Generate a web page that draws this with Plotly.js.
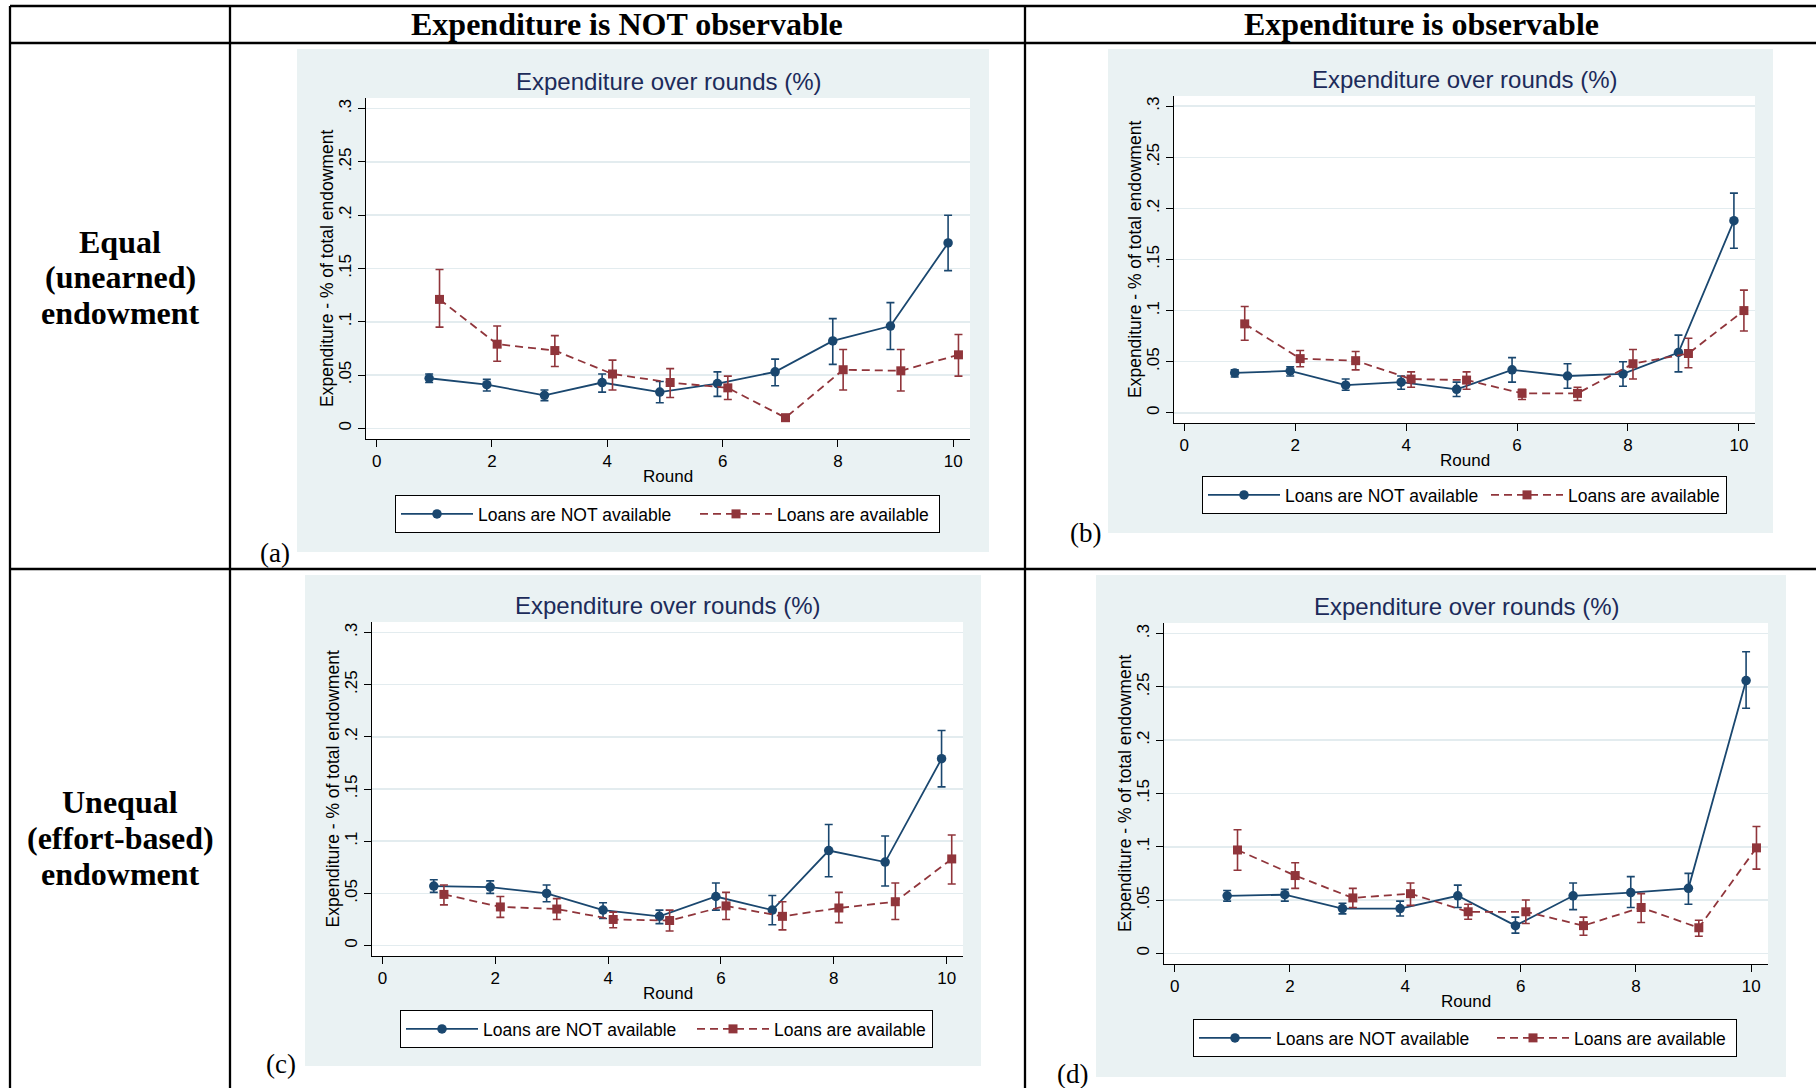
<!DOCTYPE html>
<html>
<head>
<meta charset="utf-8">
<script src="https://cdn.plot.ly/plotly-3.0.1.min.js"></script>
<style>
  html, body { margin: 0; padding: 0; background: #ffffff; }
  #chart { width: 1816px; height: 1088px; }
</style>
</head>
<body>
<div id="chart"></div>
<script>
// ---- Data: mean expenditure share per round with 95% CI bounds ----
const rounds = [1, 2, 3, 4, 5, 6, 7, 8, 9, 10];
const seriesNames = ['Loans are NOT available', 'Loans are available'];
const columnHeaders = ['Expenditure is NOT observable', 'Expenditure is observable'];
const rowHeaders = [['Equal', '(unearned)', 'endowment'], ['Unequal', '(effort-based)', 'endowment']];
const panelLetters = ['(a)', '(b)', '(c)', '(d)'];
const chartTitle = 'Expenditure over rounds (%)';
const yAxisTitle = 'Expenditure - % of total endowment';
const xAxisTitle = 'Round';
const xTickVals = [0, 2, 4, 6, 8, 10];
const yTickVals = [0, 0.05, 0.1, 0.15, 0.2, 0.25, 0.3];
const yTickText = ['0', '.05', '.1', '.15', '.2', '.25', '.3'];

// (a) equal endowment, expenditure not observable
const aNoLoansMean = [0.047, 0.041, 0.031, 0.043, 0.034, 0.042, 0.053, 0.082, 0.096, 0.174];
const aNoLoansHigh = [0.051, 0.046, 0.036, 0.051, 0.044, 0.053, 0.065, 0.103, 0.118, 0.200];
const aNoLoansLow  = [0.043, 0.035, 0.026, 0.034, 0.024, 0.030, 0.040, 0.060, 0.074, 0.148];
const aLoansMean   = [0.121, 0.079, 0.073, 0.051, 0.043, 0.038, 0.010, 0.055, 0.054, 0.069];
const aLoansHigh   = [0.149, 0.096, 0.087, 0.064, 0.056, 0.049, 0.011, 0.074, 0.074, 0.088];
const aLoansLow    = [0.095, 0.063, 0.058, 0.036, 0.029, 0.027, 0.009, 0.036, 0.035, 0.049];

// (b) equal endowment, expenditure observable
const bNoLoansMean = [0.039, 0.041, 0.027, 0.030, 0.023, 0.042, 0.036, 0.038, 0.059, 0.188];
const bNoLoansHigh = [0.042, 0.045, 0.033, 0.036, 0.030, 0.054, 0.048, 0.050, 0.076, 0.215];
const bNoLoansLow  = [0.035, 0.036, 0.022, 0.023, 0.016, 0.030, 0.024, 0.026, 0.040, 0.161];
const bLoansMean   = [0.087, 0.053, 0.051, 0.033, 0.032, 0.019, 0.019, 0.048, 0.058, 0.100];
const bLoansHigh   = [0.104, 0.061, 0.060, 0.040, 0.040, 0.023, 0.025, 0.062, 0.073, 0.120];
const bLoansLow    = [0.071, 0.045, 0.042, 0.025, 0.023, 0.013, 0.012, 0.033, 0.044, 0.080];

// (c) unequal endowment, expenditure not observable
const cNoLoansMean = [0.057, 0.056, 0.050, 0.034, 0.028, 0.047, 0.034, 0.091, 0.080, 0.179];
const cNoLoansHigh = [0.063, 0.062, 0.058, 0.041, 0.034, 0.060, 0.048, 0.116, 0.105, 0.206];
const cNoLoansLow  = [0.051, 0.050, 0.042, 0.026, 0.021, 0.034, 0.020, 0.066, 0.057, 0.152];
const cLoansMean   = [0.049, 0.037, 0.035, 0.025, 0.024, 0.038, 0.028, 0.036, 0.042, 0.083];
const cLoansHigh   = [0.058, 0.047, 0.045, 0.032, 0.034, 0.051, 0.042, 0.051, 0.060, 0.106];
const cLoansLow    = [0.039, 0.027, 0.025, 0.017, 0.014, 0.025, 0.015, 0.022, 0.025, 0.059];

// (d) unequal endowment, expenditure observable
const dNoLoansMean = [0.054, 0.055, 0.042, 0.042, 0.054, 0.026, 0.054, 0.057, 0.061, 0.256];
const dNoLoansHigh = [0.059, 0.060, 0.047, 0.049, 0.064, 0.034, 0.066, 0.072, 0.075, 0.283];
const dNoLoansLow  = [0.049, 0.049, 0.037, 0.035, 0.043, 0.019, 0.041, 0.043, 0.046, 0.230];
const dLoansMean   = [0.097, 0.073, 0.052, 0.056, 0.039, 0.039, 0.026, 0.043, 0.024, 0.099];
const dLoansHigh   = [0.116, 0.085, 0.061, 0.066, 0.046, 0.050, 0.034, 0.056, 0.031, 0.119];
const dLoansLow    = [0.078, 0.061, 0.043, 0.045, 0.032, 0.028, 0.017, 0.029, 0.016, 0.079];

// ---- Page geometry (pixels) ----
const W = 1816, H = 1088;
const X = px => px / W;
const Y = py => 1 - py / H;

const NAVY = '#1A476F';
const MAROON = '#90353B';
const PANEL_BG = '#EAF2F3';
const TITLE_COLOR = '#1C2B5A';
const SANS = 'Liberation Sans, Arial, sans-serif';
const SERIF = 'Liberation Serif, Times New Roman, serif';

// bg / plot boxes: [left, top, right, bottom]; legend: [left, top, first entry width, second entry width]
const panels = [
  { id: '',  bg: [297, 49, 989, 552],   plot: [366, 98, 970, 439],
    legend: [395, 495, 212, 157], letter: [275, 553],
    data: [[aNoLoansMean, aNoLoansLow, aNoLoansHigh], [aLoansMean, aLoansLow, aLoansHigh]] },
  { id: '2', bg: [1108, 49, 1773, 533], plot: [1174, 96, 1755, 423],
    legend: [1202, 476, 196, 153], letter: [1085, 533],
    data: [[bNoLoansMean, bNoLoansLow, bNoLoansHigh], [bLoansMean, bLoansLow, bLoansHigh]] },
  { id: '3', bg: [305, 575, 981, 1066], plot: [372, 622, 963, 956],
    legend: [400, 1010, 204, 153], letter: [281, 1064],
    data: [[cNoLoansMean, cNoLoansLow, cNoLoansHigh], [cLoansMean, cLoansLow, cLoansHigh]] },
  { id: '4', bg: [1096, 575, 1786, 1077], plot: [1164, 623, 1768, 964],
    legend: [1193, 1019, 211, 157], letter: [1072, 1074],
    data: [[dNoLoansMean, dNoLoansLow, dNoLoansHigh], [dLoansMean, dLoansLow, dLoansHigh]] }
];

const seriesStyle = [
  { color: NAVY,   dash: 'solid',   symbol: 'circle', size: 9.5, offset: -0.09 },
  { color: MAROON, dash: '8px,5px', symbol: 'square', size: 9,   offset: 0.09 }
];

const traces = [];
const shapes = [];
const annotations = [];
const layout = {
  width: W, height: H,
  margin: { l: 0, r: 0, t: 0, b: 0 },
  paper_bgcolor: '#ffffff',
  plot_bgcolor: '#ffffff',
  showlegend: true,
  font: { family: SANS, color: '#000000' },
  shapes: shapes,
  annotations: annotations
};

// table rules
const rule = (x0, y0, x1, y1) => shapes.push({
  type: 'line', xref: 'paper', yref: 'paper',
  x0: X(x0), y0: Y(y0), x1: X(x1), y1: Y(y1),
  line: { color: '#000000', width: 2.3 }, layer: 'above'
});
rule(10, 6, 1816, 6);
rule(10, 43, 1816, 43);
rule(10, 569, 1816, 569);
rule(10, 6, 10, 1088);
rule(230, 6, 230, 1088);
rule(1025, 6, 1025, 1088);

// column headers
const headerFont = { family: SERIF, size: 32, color: '#000' };
[[627, columnHeaders[0]], [1421, columnHeaders[1]]].forEach(([cx, txt]) => {
  annotations.push({ xref: 'paper', yref: 'paper', x: X(cx), y: Y(24), text: '<b>' + txt + '</b>',
    showarrow: false, xanchor: 'center', yanchor: 'middle', font: headerFont });
});
// row headers, one line per annotation
const rowLineY = [[242, 277, 313], [802, 838, 874]];
rowHeaders.forEach((lines, r) => {
  lines.forEach((txt, j) => {
    annotations.push({ xref: 'paper', yref: 'paper', x: X(120), y: Y(rowLineY[r][j]), text: '<b>' + txt + '</b>',
      showarrow: false, xanchor: 'center', yanchor: 'middle', font: headerFont });
  });
});

panels.forEach((p, i) => {
  const [bx0, by0, bx1, by1] = p.bg;
  const [px0, py0, px1, py1] = p.plot;
  const xa = 'x' + p.id, ya = 'y' + p.id;
  const legendId = 'legend' + p.id;

  // graph region background and white plot region
  shapes.push({ type: 'rect', xref: 'paper', yref: 'paper', x0: X(bx0), y0: Y(by1), x1: X(bx1), y1: Y(by0),
    fillcolor: PANEL_BG, line: { width: 0 }, layer: 'below' });
  shapes.push({ type: 'rect', xref: 'paper', yref: 'paper', x0: X(px0), y0: Y(py1), x1: X(px1), y1: Y(py0),
    fillcolor: '#ffffff', line: { width: 0 }, layer: 'below' });

  layout['xaxis' + p.id] = {
    domain: [X(px0), X(px1)], range: [-0.185, 10.29], anchor: ya,
    tickvals: xTickVals, ticks: 'outside', ticklen: 7, tickwidth: 1, tickcolor: '#000',
    showline: true, linecolor: '#000', linewidth: 1, showgrid: false, zeroline: false,
    tickfont: { family: SANS, size: 17, color: '#000' }, fixedrange: true
  };
  layout['yaxis' + p.id] = {
    domain: [Y(py1), Y(py0)], range: [-0.01, 0.31], anchor: xa,
    tickvals: yTickVals, ticktext: yTickText, tickangle: -90,
    ticks: 'outside', ticklen: 7, tickwidth: 1, tickcolor: '#000',
    showline: true, linecolor: '#000', linewidth: 1,
    showgrid: true, gridcolor: '#E3ECEF', gridwidth: 1.5, zeroline: false,
    tickfont: { family: SANS, size: 17, color: '#000' }, fixedrange: true
  };

  layout[legendId] = {
    x: X(p.legend[0]), y: Y(p.legend[1]), xanchor: 'left', yanchor: 'top',
    xref: 'paper', yref: 'paper',
    orientation: 'h', bgcolor: '#ffffff', bordercolor: '#000000', borderwidth: 1,
    font: { family: SANS, size: 17.5, color: '#000' }, itemwidth: 72,
    traceorder: 'normal', valign: 'middle'
  };

  const cx = (px0 + px1) / 2, cy = (py0 + py1) / 2;
  annotations.push({ xref: 'paper', yref: 'paper', x: X(cx), y: Y(py0 - 17), text: chartTitle,
    showarrow: false, xanchor: 'center', yanchor: 'middle', font: { family: SANS, size: 24, color: TITLE_COLOR } });
  annotations.push({ xref: 'paper', yref: 'paper', x: X(px0 - 39.5), y: Y(cy), text: yAxisTitle, textangle: -90,
    showarrow: false, xanchor: 'center', yanchor: 'middle', font: { family: SANS, size: 17.5, color: '#000' } });
  annotations.push({ xref: 'paper', yref: 'paper', x: X(cx), y: Y(py1 + 37), text: xAxisTitle,
    showarrow: false, xanchor: 'center', yanchor: 'middle', font: { family: SANS, size: 17, color: '#000' } });
  annotations.push({ xref: 'paper', yref: 'paper', x: X(p.letter[0]), y: Y(p.letter[1]), text: panelLetters[i],
    showarrow: false, xanchor: 'center', yanchor: 'middle', font: { family: SERIF, size: 27, color: '#000' } });

  p.data.forEach((s, k) => {
    const [mean, low, high] = s;
    const st = seriesStyle[k];
    traces.push({
      type: 'scatter', mode: 'lines+markers', name: seriesNames[k],
      x: rounds.map(r => r + st.offset), y: mean,
      xaxis: xa, yaxis: ya, legend: legendId, legendwidth: p.legend[2 + k],
      line: { color: st.color, width: 1.8, dash: st.dash },
      marker: { color: st.color, symbol: st.symbol, size: st.size },
      error_y: { type: 'data', symmetric: false,
        array: high.map((h, j) => h - mean[j]), arrayminus: mean.map((m, j) => m - low[j]),
        color: st.color, thickness: 1.6, width: 4 },
      hoverinfo: 'x+y'
    });
  });
});

Plotly.newPlot('chart', traces, layout, { staticPlot: true, displayModeBar: false });
</script>
</body>
</html>
